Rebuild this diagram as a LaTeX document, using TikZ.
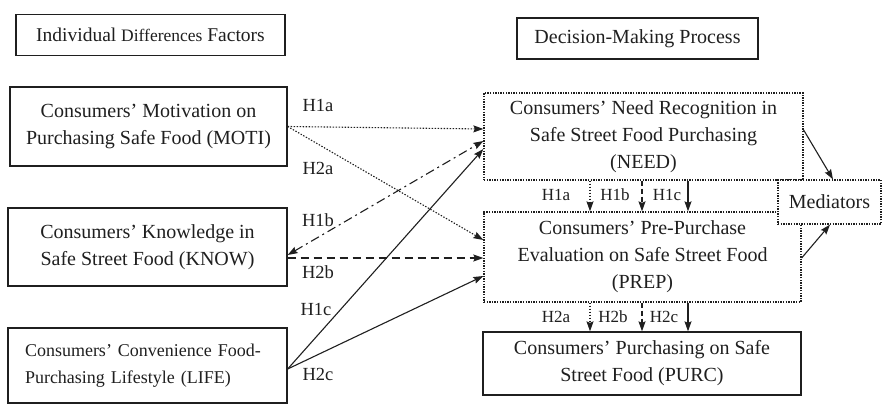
\documentclass[tikz,border=0pt]{standalone}
\usepackage{fontspec}
\setmainfont{Liberation Serif}
\usetikzlibrary{arrows.meta}
\definecolor{ink}{gray}{0.12}
\tikzset{
  box/.style={draw=ink, line width=1.3pt, rectangle, inner sep=0pt, align=center, text=ink},
  dbox/.style={box, dash pattern=on 1.4pt off 1.2pt},
  big/.style={font=\fontsize{20}{27}\selectfont},
  lab/.style={text=ink, font=\fontsize{18.5}{20}\selectfont, inner sep=0pt},
  slab/.style={text=ink, font=\fontsize{17}{19}\selectfont, inner sep=0pt},
  conn/.style={draw=ink, line width=1.1pt, -{Stealth[length=10pt,width=7pt,inset=1.5pt]}},
  dotline/.style={conn, dash pattern=on 1.4pt off 1.6pt},
  dashline/.style={conn, dash pattern=on 8pt off 5pt},
  dashdotline/.style={conn, dash pattern=on 9pt off 4pt on 2pt off 4pt}
}
\begin{document}
\begin{tikzpicture}[x=1pt,y=-1pt]
\useasboundingbox (0,0) rectangle (883,404);
% headers
\node[box, minimum width=269pt, minimum height=41pt] (head1) at (150.5,35)
  {\fontsize{19.5}{22}\selectfont Individual {\fontsize{17.5}{22}\selectfont Differences} Factors};
\node[box, minimum width=241pt, minimum height=41pt, big] (head2) at (637.5,38.5) {Decision-Making Process};
% left boxes
\node[box, minimum width=277pt, minimum height=79pt, big] (moti) at (148.5,126.5)
  {Consumers' Motivation on\\Purchasing Safe Food (MOTI)};
\node[box, minimum width=279pt, minimum height=78pt, big] (know) at (147.5,247)
  {Consumers' Knowledge in\\Safe Street Food (KNOW)};
\node[box, minimum width=279pt, minimum height=75pt, text width=245pt, align=left,
  font=\fontsize{18}{27}\selectfont] (life) at (147.5,365.5)
  {Consumers' Convenience Food-\\Purchasing Lifestyle (LIFE)};
% right boxes
\node[dbox, minimum width=319pt, minimum height=87pt, big] (need) at (643.5,136.5)
  {Consumers' Need Recognition in\\Safe Street Food Purchasing\\(NEED)};
\node[dbox, minimum width=317pt, minimum height=90pt, big] (prep) at (642.5,257)
  {Consumers' Pre-Purchase\\Evaluation on Safe Street Food\\(PREP)};
\node[box, minimum width=318pt, minimum height=63pt, big] (purc) at (642,363.5)
  {Consumers' Purchasing on Safe\\Street Food (PURC)};
\node[dbox, fill=white, minimum width=103pt, minimum height=44pt, big] (med) at (829.5,202) {Mediators};
% left connectors
\draw[dotline] (moti.east) -- ([yshift=7.5pt]need.west);
\draw[dotline] (moti.east) -- ([yshift=17pt]prep.west);
\draw[dashdotline, {Stealth[length=10pt,width=7pt,inset=1.5pt]}-{Stealth[length=10pt,width=7pt,inset=1.5pt]}]
  ([yshift=-8pt]know.east) -- ([yshift=-4.5pt]need.west);
\draw[dashline] ([yshift=-11pt]know.east) -- ([yshift=-1pt]prep.west);
\draw[conn] ([yshift=-3.5pt]life.east) -- ([yshift=-12.5pt]need.west);
\draw[conn] ([yshift=-3.5pt]life.east) -- ([yshift=-19pt]prep.west);
% to mediators
\draw[conn] ([yshift=6.5pt]need.east) -- ([xshift=3.5pt]med.north);
\draw[conn] ([yshift=-1pt]prep.east) -- ([xshift=0.5pt]med.south);
% vertical connectors
\draw[dotline] ([xshift=-53.5pt]need.south) -- ([xshift=-53.5pt]need.south |- prep.north);
\draw[dashline, dash pattern=on 5pt off 3pt] ([xshift=-1.5pt]need.south) -- ([xshift=-1.5pt]need.south |- prep.north);
\draw[conn] ([xshift=44.5pt]need.south) -- ([xshift=44.5pt]need.south |- prep.north);
\draw[dotline] ([xshift=-52.5pt]prep.south) -- ([xshift=-52.5pt]prep.south |- purc.north);
\draw[dashline, dash pattern=on 5pt off 3pt] ([xshift=-0.5pt]prep.south) -- ([xshift=-0.5pt]prep.south |- purc.north);
\draw[conn] ([xshift=45.5pt]prep.south) -- ([xshift=45.5pt]prep.south |- purc.north);
% labels left
\node[lab] (l1a) at (318,105) {H1a};
\node[lab] (l2a) at (318,168) {H2a};
\node[lab] (l1b) at (318,220) {H1b};
\node[lab] (l2b) at (318,272) {H2b};
\node[lab] (l1c) at (316,309) {H1c};
\node[lab] (l2c) at (318,374) {H2c};
% labels vertical
\node[slab] (v1a) at (556,195) {H1a};
\node[slab] (v1b) at (615,195) {H1b};
\node[slab] (v1c) at (667,195) {H1c};
\node[slab] (v2a) at (556,317) {H2a};
\node[slab] (v2b) at (613,317) {H2b};
\node[slab] (v2c) at (664,317) {H2c};
\end{tikzpicture}
\end{document}
